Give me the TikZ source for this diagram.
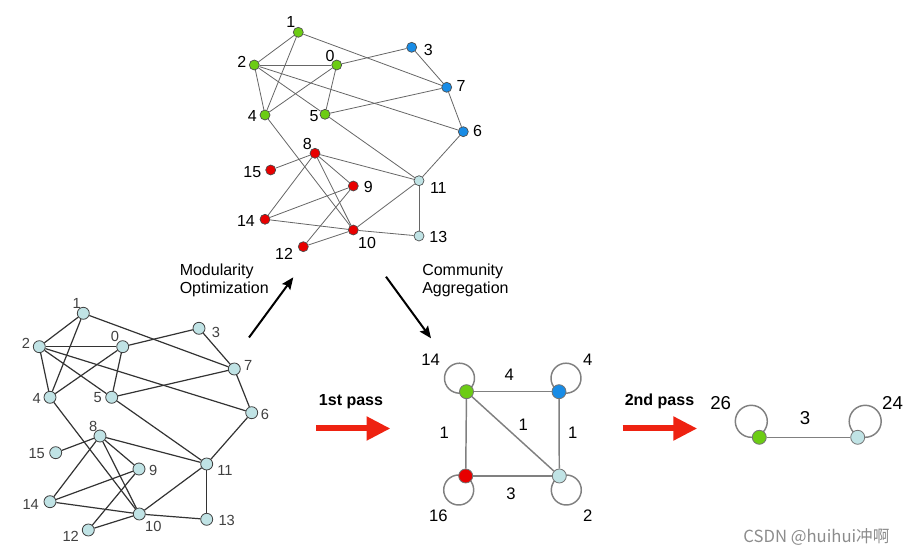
\documentclass[tikz,border=0pt]{standalone}
\usepackage{fontspec}
\setmainfont{Liberation Sans}
\newfontfamily\cjk{Noto Sans CJK SC}
\usetikzlibrary{arrows.meta,backgrounds}
\definecolor{cgreen}{RGB}{108,204,20}
\definecolor{cblue}{RGB}{24,140,230}
\definecolor{cred}{RGB}{232,0,0}
\definecolor{ccyan}{RGB}{192,227,229}
\definecolor{arrred}{RGB}{238,34,17}
\begin{document}
\begin{tikzpicture}[x=0.75pt,y=-0.75pt,
 tv/.style={circle,draw=black!70,line width=0.5pt,minimum size=7.5pt,inner sep=0pt},
 bv/.style={circle,draw=black!75,line width=0.6pt,minimum size=9pt,inner sep=0pt,fill=ccyan},
 mv/.style={circle,draw=black!55,line width=0.6pt,minimum size=10.5pt,inner sep=0pt},
 tl/.style={inner sep=0pt,font=\fontsize{12}{14}\selectfont},
 bl/.style={inner sep=0pt,font=\fontsize{11}{13}\selectfont,text=black!75},
 ml/.style={inner sep=0pt,font=\fontsize{12.5}{14}\selectfont},
 rl/.style={inner sep=0pt,font=\fontsize{14}{16}\selectfont},
 captxt/.style={inner sep=0pt,anchor=base west,font=\fontsize{12}{14}\selectfont},
 passl/.style={inner sep=0pt,anchor=base,font=\bfseries\fontsize{12}{14}\selectfont},
 te/.style={draw=black!60,line width=0.6pt},
 be/.style={draw=black!80,line width=0.9pt},
 me/.style={draw=black!50,line width=1.1pt},
 blackarr/.style={line width=1.5pt,-{Stealth[length=9pt,width=7.5pt,inset=1.5pt]}},
 redarr/.style={draw=arrred,line width=4.5pt,-{Triangle[length=18pt,width=17pt]}},
]
\useasboundingbox (0,0) rectangle (907,555);

% ---------- top graph ----------
\node[tv,fill=cgreen] (t1) at (298.3,32.3) {};
\node[tv,fill=cgreen] (t2) at (254.3,65) {};
\node[tv,fill=cgreen] (t0) at (336.7,65) {};
\node[tv,fill=cblue] (t3) at (411.7,47.3) {};
\node[tv,fill=cblue] (t7) at (446.7,87.3) {};
\node[tv,fill=cgreen] (t4) at (265,115) {};
\node[tv,fill=cgreen] (t5) at (325,114.3) {};
\node[tv,fill=cblue] (t6) at (463.3,131.7) {};
\node[tv,fill=cred] (t8) at (315,153.3) {};
\node[tv,fill=cred] (t15) at (270.7,170) {};
\node[tv,fill=cred] (t9) at (353.3,186) {};
\node[tv,fill=ccyan] (t11) at (419,180.7) {};
\node[tv,fill=cred] (t14) at (265,219.3) {};
\node[tv,fill=cred] (t10) at (353.3,230) {};
\node[tv,fill=ccyan] (t13) at (419,236) {};
\node[tv,fill=cred] (t12) at (303.3,246.7) {};

\node[tl] (lt1) at (290.7,22.5) {1};
\node[tl] (lt2) at (241.7,61.7) {2};
\node[tl] (lt0) at (330,55.5) {0};
\node[tl] (lt3) at (428.3,50) {3};
\node[tl] (lt7) at (461,85.7) {7};
\node[tl] (lt4) at (252.3,116) {4};
\node[tl] (lt5) at (314,116) {5};
\node[tl] (lt6) at (477.5,131) {6};
\node[tl] (lt8) at (307.3,143.5) {8};
\node[tl] (lt15) at (252.3,171.7) {15};
\node[tl] (lt9) at (368.3,187.3) {9};
\node[tl] (lt11) at (438.3,188.3) {11};
\node[tl] (lt14) at (246,220.7) {14};
\node[tl] (lt10) at (367,243.3) {10};
\node[tl] (lt13) at (438.3,237.3) {13};
\node[tl] (lt12) at (284,254) {12};

\foreach \a/\b in {1/2,1/4,1/7,2/0,2/4,2/5,2/6,0/4,0/5,0/3,3/7,7/5,7/6,6/11,4/10,5/11,
  8/15,8/14,8/9,8/10,8/11,9/14,9/12,14/10,10/11,10/13,10/12,11/13}
  \draw[te] (t\a) -- (t\b);

% ---------- bottom-left graph ----------
\node[bv] (b1) at (83.3,313.3) {};
\node[bv] (b2) at (39.3,346.7) {};
\node[bv] (b0) at (122.7,346.7) {};
\node[bv] (b3) at (199,328.3) {};
\node[bv] (b7) at (234.3,369) {};
\node[bv] (b4) at (50,397.3) {};
\node[bv] (b5) at (111.7,397.3) {};
\node[bv] (b6) at (251.7,412.7) {};
\node[bv] (b8) at (100,436) {};
\node[bv] (b15) at (55.7,452.7) {};
\node[bv] (b9) at (139,469) {};
\node[bv] (b11) at (206.7,464) {};
\node[bv] (b14) at (50,501.7) {};
\node[bv] (b10) at (139.3,514) {};
\node[bv] (b13) at (206.7,519.3) {};
\node[bv] (b12) at (88.3,530) {};

\node[bl] (lb1) at (76.7,303.3) {1};
\node[bl] (lb2) at (26,343.3) {2};
\node[bl] (lb0) at (115,336.7) {0};
\node[bl] (lb3) at (216,332.7) {3};
\node[bl] (lb7) at (248.3,365) {7};
\node[bl] (lb4) at (36.7,398.3) {4};
\node[bl] (lb5) at (97.7,397.3) {5};
\node[bl] (lb6) at (265,414) {6};
\node[bl] (lb8) at (93.3,426.7) {8};
\node[bl] (lb15) at (36.7,453.3) {15};
\node[bl] (lb9) at (153.3,470) {9};
\node[bl] (lb11) at (225,470) {11};
\node[bl] (lb14) at (30.7,504) {14};
\node[bl] (lb10) at (153.3,526) {10};
\node[bl] (lb13) at (226.7,520) {13};
\node[bl] (lb12) at (70.7,536.7) {12};

\foreach \a/\b in {1/2,1/4,1/7,2/0,2/4,2/5,2/6,0/4,0/5,0/3,3/7,7/5,7/6,6/11,4/10,5/11,
  8/15,8/14,8/9,8/10,8/11,9/14,9/12,14/10,10/11,10/13,10/12,11/13}
  \draw[be] (b\a) -- (b\b);

% ---------- middle graph ----------
\node[mv,fill=cgreen] (mg) at (466.5,391.7) {};
\node[mv,fill=cblue] (mb) at (559,391.7) {};
\node[mv,fill=cred] (mr) at (465.7,476) {};
\node[mv,fill=ccyan] (mc) at (559.3,476) {};
\begin{scope}[on background layer]
  \draw[me] (mg) ++(-7,-13.5) circle[radius=11.25pt];
  \draw[me] (mb) ++(7,-13.5) circle[radius=11.25pt];
  \draw[me] (mr) ++(-7,14) circle[radius=11.25pt];
  \draw[me] (mc) ++(7,14) circle[radius=11.25pt];
\end{scope}
\draw[me] (mg) -- (mb);
\draw[me] (mg) -- (mr);
\draw[me] (mg) -- (mc);
\draw[me] (mb) -- (mc);
\draw[me] (mr) -- (mc);
\node[ml] (m14) at (430.7,360) {14};
\node[ml] (m4a) at (587.7,360) {4};
\node[ml] (m4b) at (509.3,375) {4};
\node[ml] (m1a) at (444.3,432.7) {1};
\node[ml] (m1b) at (523.3,425) {1};
\node[ml] (m1c) at (572.7,432.7) {1};
\node[ml] (m3) at (511,494) {3};
\node[ml] (m16) at (438.3,516) {16};
\node[ml] (m2) at (587.7,516) {2};

% ---------- right graph ----------
\node[mv,fill=cgreen] (rg) at (759.3,437.3) {};
\node[mv,fill=ccyan] (rc) at (857.7,437.3) {};
\begin{scope}[on background layer]
  \draw[me] (rg) ++(-8,-16) circle[radius=12pt];
  \draw[me] (rc) ++(7.5,-16) circle[radius=12pt];
\end{scope}
\draw[me] (rg) -- (rc);
\node[rl] (r26) at (720.7,402.7) {26};
\node[rl] (r24) at (892.5,402.7) {24};
\node[rl] (r3) at (805,418.3) {3};

% ---------- captions and arrows ----------
\node[captxt] (mo1) at (179.5,276) {Modularity};
\node[captxt] (mo2) at (179.5,294) {Optimization};
\node[captxt] (ca1) at (422,276) {Community};
\node[captxt] (ca2) at (422,294) {Aggregation};
\coordinate (a1s) at (249,337.5);
\coordinate (a1e) at (293.3,277.3);
\coordinate (a2s) at (386,276.7);
\coordinate (a2e) at (431,338.3);
\draw[blackarr] (a1s) -- (a1e);
\draw[blackarr] (a2s) -- (a2e);

\node[passl] (p1) at (351,406) {1st pass};
\node[passl] (p2) at (659.5,406) {2nd pass};
\coordinate (r1s) at (316,428.5);
\coordinate (r1e) at (390.5,428.5);
\coordinate (r2s) at (622.5,428.5);
\coordinate (r2e) at (697.3,428.5);
\draw[redarr] (r1s) -- (r1e);
\draw[redarr] (r2s) -- (r2e);

\node[inner sep=0pt,text=black!45,font=\cjk\fontsize{12.5}{14}\selectfont] (wm) at (816.5,537) {CSDN @huihui冲啊};
\end{tikzpicture}
\end{document}
